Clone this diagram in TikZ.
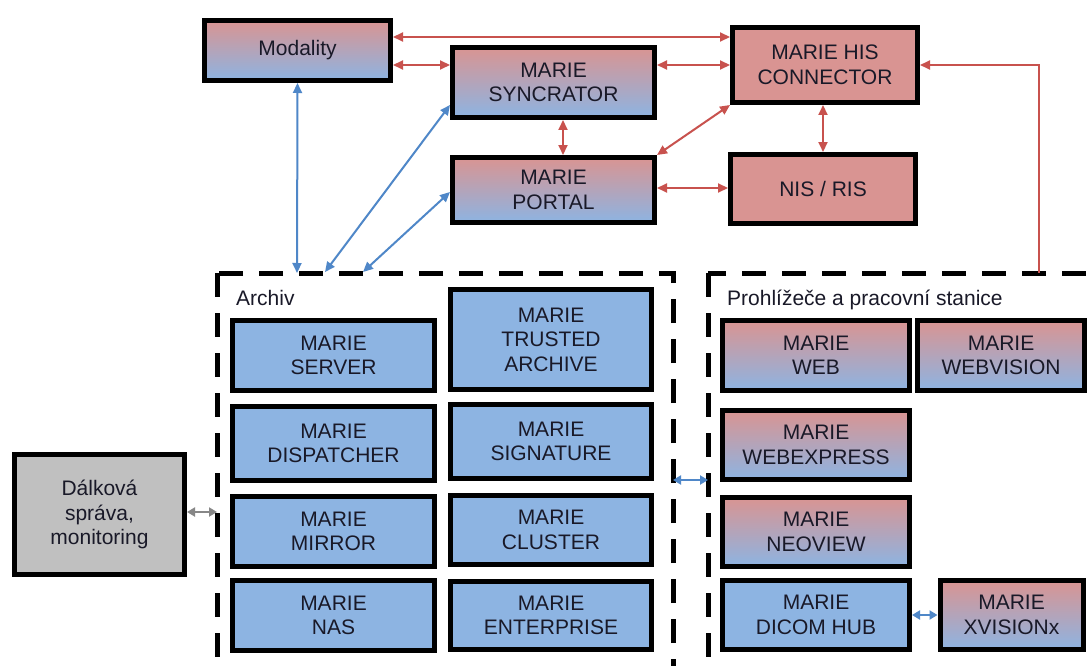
\documentclass[tikz,border=0pt]{standalone}
\usepackage{fontspec}
\setmainfont{Liberation Sans}
\usetikzlibrary{arrows.meta}
\definecolor{boxred}{RGB}{217,148,146}
\definecolor{boxblue}{RGB}{141,180,226}
\definecolor{arrred}{RGB}{200,82,78}
\definecolor{arrblue}{RGB}{79,135,200}
\definecolor{arrgray}{RGB}{135,135,135}
\definecolor{boxgray}{RGB}{192,192,192}
\definecolor{txt}{RGB}{25,25,40}
\tikzset{
  box/.style={draw=black, line width=5pt, inner sep=0pt, align=center,
    font=\fontsize{21}{24.5}\selectfont, text=txt},
  gradbox/.style={box, top color=boxred, bottom color=boxblue},
  bluebox/.style={box, fill=boxblue},
  redbox/.style={box, fill=boxred},
  graybox/.style={box, fill=boxgray},
  grp/.style={draw=black, line width=5pt, dash pattern=on 24pt off 16pt},
  grplabel/.style={anchor=base west, inner sep=0pt, font=\fontsize{21}{24}\selectfont, text=txt},
  redarr/.style={draw=arrred, line width=2pt, {Triangle[length=10pt,width=9pt]}-{Triangle[length=10pt,width=9pt]}},
  redone/.style={draw=arrred, line width=2pt, -{Triangle[length=10pt,width=9pt]}},
  bluearr/.style={draw=arrblue, line width=2pt, {Triangle[length=10pt,width=9pt]}-{Triangle[length=10pt,width=9pt]}},
  blueshort/.style={draw=arrblue, line width=2.5pt, {Triangle[length=8pt,width=9pt]}-{Triangle[length=8pt,width=9pt]}},
  grayarr/.style={draw=arrgray, line width=2.5pt, {Triangle[length=8pt,width=9pt]}-{Triangle[length=8pt,width=9pt]}},
}
\begin{document}
\begin{tikzpicture}[x=1pt,y=-1pt]
\useasboundingbox (0,0) rectangle (1089,666);
\clip (0,0) rectangle (1089,666);
\fill[white] (0,0) rectangle (1089,666);

% top nodes
\node[gradbox, minimum width=186pt, minimum height=60pt] (mod) at (297.5,50.5) {Modality};
\node[gradbox, minimum width=202pt, minimum height=70pt] (syn) at (553.5,82.5) {MARIE\\SYNCRATOR};
\node[redbox, minimum width=185pt, minimum height=75pt] (his) at (825,65) {MARIE HIS\\CONNECTOR};
\node[gradbox, minimum width=202pt, minimum height=65pt] (por) at (553.5,190) {MARIE\\PORTAL};
\node[redbox, minimum width=185pt, minimum height=69pt] (nis) at (823,189) {NIS / RIS};

% group boxes
\draw[grp] (217,273) coordinate (arcNW) rectangle (673,670);
\draw[grp] (708,273) coordinate (viwNW) rectangle (1100,670);
\coordinate (arcA) at (297,273);
\coordinate (arcB) at (325,272);
\coordinate (arcC) at (363,272);
\coordinate (viwR) at (1039,273);
\coordinate (arcE) at (673,480);
\coordinate (viwW) at (708,480);
\coordinate (arcW) at (217,512);

\node[grplabel] (archiv) at (236,305) {Archiv};
\node[grplabel] (prohl) at (727,305) {Prohlížeče a pracovní stanice};

% archive column 1
\node[bluebox, minimum width=202pt, minimum height=70pt] (server) at (333.5,355.5) {MARIE\\SERVER};
\node[bluebox, minimum width=202pt, minimum height=74pt] (disp) at (333.5,443.5) {MARIE\\DISPATCHER};
\node[bluebox, minimum width=202pt, minimum height=70pt] (mirror) at (333.5,531.5) {MARIE\\MIRROR};
\node[bluebox, minimum width=202pt, minimum height=70pt] (nas) at (333.5,615.5) {MARIE\\NAS};
% archive column 2
\node[bluebox, minimum width=201pt, minimum height=100pt] (trust) at (551,339.5) {MARIE\\TRUSTED\\ARCHIVE};
\node[bluebox, minimum width=201pt, minimum height=74pt] (sign) at (551,441.5) {MARIE\\SIGNATURE};
\node[bluebox, minimum width=201pt, minimum height=69pt] (clus) at (551,530) {MARIE\\CLUSTER};
\node[bluebox, minimum width=201pt, minimum height=68pt] (ent) at (551,615.5) {MARIE\\ENTERPRISE};

% viewers
\node[gradbox, minimum width=187pt, minimum height=70pt] (web) at (816,355.5) {MARIE\\WEB};
\node[gradbox, minimum width=167pt, minimum height=70pt] (webv) at (1001,355.5) {MARIE\\WEBVISION};
\node[gradbox, minimum width=187pt, minimum height=69pt] (webx) at (816,445) {MARIE\\WEBEXPRESS};
\node[gradbox, minimum width=187pt, minimum height=69pt] (neo) at (816,532) {MARIE\\NEOVIEW};
\node[bluebox, minimum width=187pt, minimum height=69pt] (hub) at (816,615) {MARIE\\DICOM HUB};
\node[gradbox, minimum width=143pt, minimum height=69pt] (xv) at (1011.5,615) {MARIE\\XVISIONx};

% remote management
\node[graybox, minimum width=170pt, minimum height=120pt] (remote) at (99.5,514.5) {Dálková\\správa,\\monitoring};

% red connectors
\draw[redarr] (mod.east |- 0,37) -- (his.west |- 0,37);
\draw[redarr] (mod.east |- 0,65) -- (syn.west |- 0,65);
\draw[redarr] (syn.east |- 0,65) -- (his.west |- 0,65);
\draw[redarr] (syn.south -| 563,0) -- (por.north -| 563,0);
\draw[redarr] (por.north east) -- (his.south west);
\draw[redarr] (his.south -| 823,0) -- (nis.north -| 823,0);
\draw[redarr] (por.east |- 0,188) -- (nis.west |- 0,188);
\draw[redone] (viwR) |- (his.east);

% blue connectors
\draw[bluearr] (mod.south) -- (arcA);
\draw[bluearr] (syn.west |- 0,105) -- (arcB);
\draw[bluearr] (por.west |- 0,192) -- (arcC);
\draw[blueshort] (arcE) -- (viwW);
\draw[blueshort] (hub.east |- 0,615) -- (xv.west |- 0,615);
\draw[grayarr] (remote.east |- 0,512) -- (arcW);
\end{tikzpicture}
\end{document}
